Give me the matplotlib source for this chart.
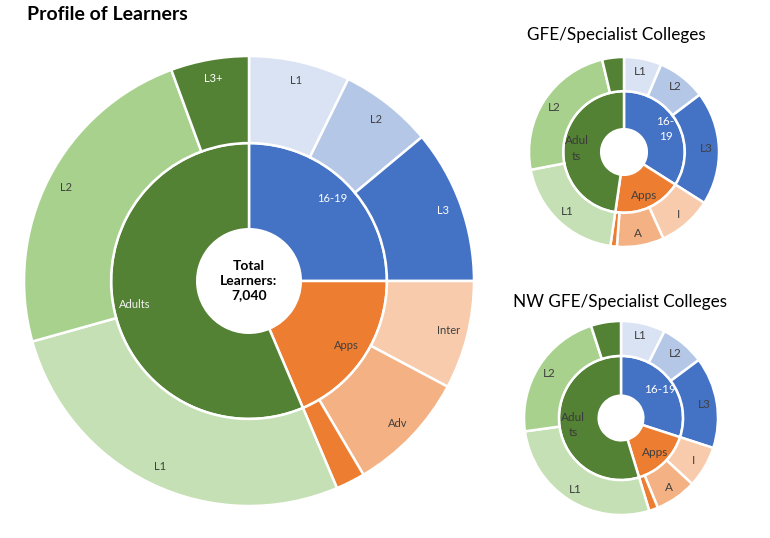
import numpy as np
import matplotlib
matplotlib.use("Agg")
import matplotlib.pyplot as plt

plt.rcParams['font.family'] = ['Lato', 'DejaVu Sans']

# inner ring groups
groups = ["16-19", "Apps", "Adults"]

# main chart (learner counts)
main_outer_labels = ["L1", "L2", "L3", "Inter", "Adv", "", "L1", "L2", "L3+"]
main_outer = [512, 470, 778, 548, 614, 148, 1905, 1670, 395]
main_total = "7,040"

# GFE/Specialist Colleges (share, %)
gfe_outer_labels = ["L1", "L2", "L3", "I", "A", "", "L1", "L2", ""]
gfe_outer = [6.4, 8.3, 19.3, 9.2, 8.0, 1.1, 19.7, 24.3, 3.7]

# NW GFE/Specialist Colleges (share, %)
nw_outer_labels = ["L1", "L2", "L3", "I", "A", "", "L1", "L2", ""]
nw_outer = [7.4, 7.4, 15.2, 6.9, 6.9, 1.5, 27.5, 22.2, 5.0]

inner_cols = ["#4472C4", "#ED7D31", "#548235"]
outer_cols = ["#DAE3F3", "#B4C7E7", "#4472C4",
              "#F8CBAD", "#F4B183", "#ED7D31",
              "#C5E0B4", "#A9D18E", "#548235"]
dark = "#404040"

W, H = 770, 538
fig = plt.figure(figsize=(W / 100, H / 100), dpi=100)
ax = fig.add_axes([0, 0, 1, 1])


def sunburst(cx, cy, R, outer, outer_labels, inner_labels, hole, mid, rin, rout,
             fs, inner_tc, outer_tc):
    cy = H - cy
    inner = [sum(outer[0:3]), sum(outer[3:6]), sum(outer[6:9])]
    w_in, _ = ax.pie(inner, radius=R * mid, center=(cx, cy), startangle=90,
                     counterclock=False, colors=inner_cols, frame=True,
                     wedgeprops=dict(width=R * (mid - hole), edgecolor="white", linewidth=1.8))
    w_out, _ = ax.pie(outer, radius=R, center=(cx, cy), startangle=90,
                      counterclock=False, colors=outer_cols, frame=True,
                      wedgeprops=dict(width=R * (1 - mid), edgecolor="white", linewidth=1.8))
    for w, lab, c in zip(w_in, inner_labels, inner_tc):
        a = np.deg2rad((w.theta1 + w.theta2) / 2)
        ax.text(cx + R * rin * np.cos(a), cy + R * rin * np.sin(a), lab,
                ha="center", va="center", fontsize=fs, color=c, linespacing=1.5)
    for w, lab, c in zip(w_out, outer_labels, outer_tc):
        a = np.deg2rad((w.theta1 + w.theta2) / 2)
        ax.text(cx + R * rout * np.cos(a), cy + R * rout * np.sin(a), lab,
                ha="center", va="center", fontsize=fs, color=c)


sunburst(249, 281, 225, main_outer, main_outer_labels, groups,
         0.23, 0.613, 0.52, 0.915, 8,
         ["white", dark, "#f0f0f0"],
         [dark, dark, "white", dark, dark, dark, dark, dark, "white"])
ax.text(249, H - 281, "Total\nLearners:\n" + main_total, ha="center", va="center",
        fontsize=10, fontweight="bold", color="black", linespacing=1.25)

sunburst(624, 152, 95, gfe_outer, gfe_outer_labels, ["16-\n19", "Apps", "Adul\nts"],
         0.24, 0.64, 0.5, 0.87, 8.5,
         ["white", dark, "#3a3a3a"],
         [dark] * 9)
sunburst(621, 418, 97, nw_outer, nw_outer_labels, ["16-19", "Apps", "Adul\nts"],
         0.23, 0.64, 0.5, 0.87, 8.5,
         ["white", dark, "#3a3a3a"],
         [dark] * 9)

ax.text(27, H - 14, "Profile of Learners", ha="left", va="center",
        fontsize=14, fontweight="bold", color="black")
ax.text(616, H - 35, "GFE/Specialist Colleges", ha="center", va="center",
        fontsize=12.3, color="black")
ax.text(620, H - 302, "NW GFE/Specialist Colleges", ha="center", va="center",
        fontsize=12.3, color="black")

ax.set_xlim(0, W)
ax.set_ylim(0, H)
ax.set_aspect("equal")
ax.axis("off")

fig.savefig("out.png", dpi=100, facecolor="white")
